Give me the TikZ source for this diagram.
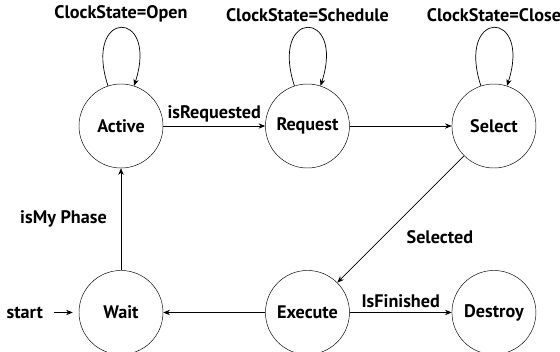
\documentclass[tikz,border=0pt]{standalone}
\usepackage{fontspec}
\setmainfont{PT Sans}
\usetikzlibrary{arrows.meta, positioning}

\begin{document}
\begin{tikzpicture}[
    node distance=3.06cm,
    font=\fontsize{15.5}{17}\selectfont\bfseries,
    state/.style={
        draw,
        circle,
        minimum size=2.52cm,
        inner sep=0pt
    },
    arrow/.style={-{Stealth[length=2mm, width=1.6mm]}, semithick},
    selfloop/.style={arrow, out=108, in=72, looseness=8}
]

\useasboundingbox (-3.63,3.78) rectangle (13.17,-6.75);

% ===== Top row =====
\node[state] (active) {Active};

\node[state, right=of active] (request) {Request};

\node[state, right=of request] (select) {Select};

% ===== Bottom row =====
\node[state, below=of active] (wait) {Wait};

\node[state, below=of request] (execute) {Execute};

\node[state, below=of select] (destroy) {Destroy};

\node[left=0.95cm of wait] (start) {start};

% ===== Arrows =====
\draw[arrow] (active) -- node[above] {isRequested} (request);
\draw[arrow] (request) -- (select);
\draw[arrow] (select) -- node[midway, below right=0.2cm and 0.05cm] {Selected} (execute);
\draw[arrow] (execute) -- (wait);
\draw[arrow] (execute) -- node[above] {IsFinished} (destroy);
\draw[arrow] (wait) -- node[left=0.3cm] {isMy Phase} (active);
\draw[arrow, shorten <=0.2cm, shorten >=0.18cm] (start) -- (wait);

% ===== Self loops =====
\draw[selfloop] (active) to node[above=0.05cm] {ClockState=Open} (active);
\draw[selfloop] (request) to node[above=0.05cm] {ClockState=Schedule} (request);
\draw[selfloop] (select) to node[above=0.05cm] {ClockState=Close} (select);

\end{tikzpicture}
\end{document}
